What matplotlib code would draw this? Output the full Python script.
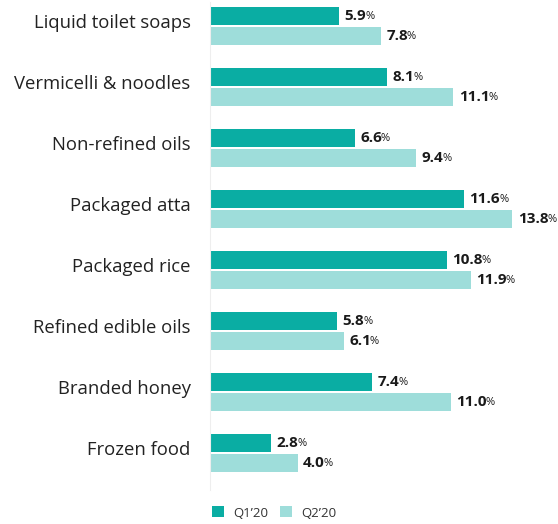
import matplotlib.pyplot as plt
import numpy as np

categories = ["Liquid toilet soaps", "Vermicelli & noodles", "Non-refined oils",
              "Packaged atta", "Packaged rice", "Refined edible oils",
              "Branded honey", "Frozen food"]
q1 = [5.9, 8.1, 6.6, 11.6, 10.8, 5.8, 7.4, 2.8]
q2 = [7.8, 11.1, 9.4, 13.8, 11.9, 6.1, 11.0, 4.0]
series_names = ["Q1\u201920", "Q2\u201920"]

c1 = "#0AADA3"
c2 = "#9EDDDA"
plt.rcParams['font.family'] = ['Open Sans', 'DejaVu Sans']

fig = plt.figure(figsize=(5.58, 5.24), dpi=100)
H = 524.0
ax = fig.add_axes([210 / 558, 1 - 489.6 / H, 348 / 558, (489.6 - 1.6) / H])

y = np.arange(len(categories))
h = 0.3
b1 = ax.barh(y - h / 2 - 0.01, q1, height=h, color=c1, label=series_names[0])
b2 = ax.barh(y + h / 2 + 0.01, q2, height=h, color=c2, label=series_names[1])
ax.set_ylim(7.6, -0.4)
ax.set_xlim(0, 348 / 21.9)
ax.set_yticks(y - 0.05)
ax.set_yticklabels(categories, fontsize=13.3, color="#222222", va="center")
ax.tick_params(axis='y', length=0, pad=14)
ax.set_xticks([])
for s in ["top", "right", "bottom"]:
    ax.spines[s].set_visible(False)
ax.spines["left"].set_color("#eeeeee")

fig.canvas.draw()
r = fig.canvas.get_renderer()
for bars, vals in [(b1, q1), (b2, q2)]:
    for bar, v in zip(bars, vals):
        yc = bar.get_y() + bar.get_height() / 2
        t = ax.annotate(f"{v:.1f}", (v, yc), xytext=(4, 0), textcoords="offset points",
                        va="center", ha="left", fontsize=11, fontweight="bold", color="#1a1a1a")
        w = t.get_window_extent(r).width * 72 / fig.dpi
        ax.annotate("%", (v, yc), xytext=(4 + w - 0.8, -0.5), textcoords="offset points",
                    va="center", ha="left", fontsize=8, color="#1a1a1a")

fig.legend(handles=[b1, b2], loc="center left", bbox_to_anchor=(200 / 558, 1 - 513 / H),
           ncol=2, frameon=False, fontsize=9.5, handlelength=0.9, handleheight=0.9,
           handletextpad=0.7, columnspacing=0.9, labelcolor="#333333")

fig.savefig("out.png", dpi=100)
